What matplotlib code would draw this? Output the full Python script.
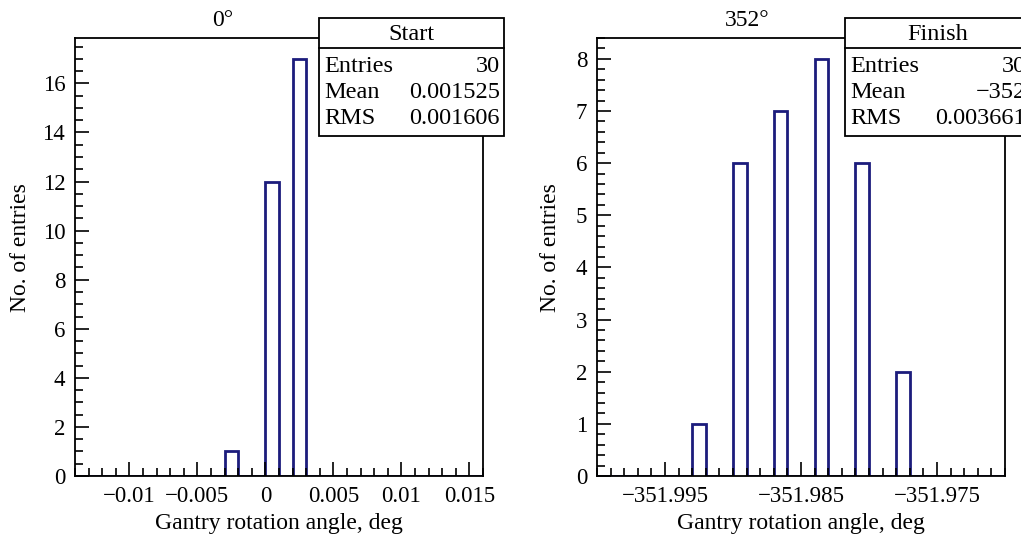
import numpy as np
import matplotlib
matplotlib.use("Agg")
import matplotlib.pyplot as plt
from matplotlib.patches import Rectangle
from matplotlib.ticker import MultipleLocator

# histogram data (30 bins each)
start_edges = np.linspace(-0.014, 0.016, 31)
start_counts = [0, 0, 0, 0, 0, 0, 0, 0, 0, 0,
                0, 1, 0, 0, 12, 0, 17, 0, 0, 0,
                0, 0, 0, 0, 0, 0, 0, 0, 0, 0]
finish_edges = np.linspace(-352.0, -351.97, 31)
finish_counts = [0, 0, 0, 0, 0, 0, 0, 1, 0, 0,
                 6, 0, 0, 7, 0, 0, 8, 0, 0, 6,
                 0, 0, 2, 0, 0, 0, 0, 0, 0, 0]

titles = ["0°", "352°"]
box_titles = ["Start", "Finish"]
stats = [[("Entries", "30"), ("Mean", "0.001525"), ("RMS", "0.001606")],
         [("Entries", "30"), ("Mean", "\u2212352"), ("RMS", "0.003661")]]

W, H = 1021, 539
plt.rcParams['font.family'] = ['Liberation Serif', 'DejaVu Serif']
plt.rcParams['font.size'] = 16.5
navy = '#1c1c7c'

fig = plt.figure(figsize=(W / 100, H / 100), dpi=100)

def fx(px):
    return px / W

def fy(py):
    return 1 - py / H

ax1 = fig.add_axes([fx(75), fy(476), fx(408), 438 / H])
ax2 = fig.add_axes([fx(597), fy(476), fx(408), 438 / H])

ax1.stairs(start_counts, start_edges, color=navy, lw=2)
ax1.set_xlim(-0.014, 0.016)
ax1.set_ylim(0, 1.05 * max(start_counts))
ax1.xaxis.set_minor_locator(MultipleLocator(0.001))
ax1.yaxis.set_major_locator(MultipleLocator(2))
ax1.yaxis.set_minor_locator(MultipleLocator(0.5))
ax1.set_xticks([-0.01, -0.005, 0, 0.005, 0.01, 0.015])
ax1.set_xticklabels(["\u22120.01", "\u22120.005", "0", "0.005", "0.01", "0.015"])

ax2.stairs(finish_counts, finish_edges, color=navy, lw=2)
ax2.set_xlim(-352.0, -351.97)
ax2.set_ylim(0, 1.05 * max(finish_counts))
ax2.xaxis.set_minor_locator(MultipleLocator(0.001))
ax2.yaxis.set_major_locator(MultipleLocator(1))
ax2.yaxis.set_minor_locator(MultipleLocator(0.2))
ax2.set_xticks([-351.995, -351.985, -351.975])
ax2.set_xticklabels(["\u2212351.995", "\u2212351.985", "\u2212351.975"])

for ax in (ax1, ax2):
    for s in ax.spines.values():
        s.set_linewidth(1.3)
    ax.tick_params(which='both', direction='in', top=False, right=False, width=1.2)
    ax.tick_params(which='major', length=10, pad=7)
    ax.tick_params(which='minor', length=5.5)

# titles and axis labels
fig.text(fx(223), fy(20), titles[0], ha='center', va='center', fontsize=17)
fig.text(fx(747), fy(20), titles[1], ha='center', va='center', fontsize=17)
for xc in (279, 801):
    fig.text(fx(xc), fy(523), "Gantry rotation angle, deg", ha='center', va='center', fontsize=17)
for xc in (21, 551):
    fig.text(fx(xc), fy(248), "No. of entries", ha='center', va='center', rotation=90, fontsize=17)

# stats boxes
for bx, name, rows in zip((319, 845), box_titles, stats):
    bw = 185
    fig.add_artist(Rectangle((fx(bx), fy(136)), fx(bw), (136 - 18) / H,
                             transform=fig.transFigure, facecolor='white',
                             edgecolor='black', lw=1.3, zorder=5))
    fig.add_artist(plt.Line2D([fx(bx), fx(bx + bw)], [fy(48), fy(48)],
                              transform=fig.transFigure, color='black', lw=1.3, zorder=6))
    fig.text(fx(bx + bw / 2), fy(34), name, ha='center', va='center', zorder=7, fontsize=17.5)
    for i, (k, v) in enumerate(rows):
        yc = 66 + i * 26
        fig.text(fx(bx + 5), fy(yc), k, ha='left', va='center', zorder=7, fontsize=17.5)
        fig.text(fx(bx + bw - 4), fy(yc), v, ha='right', va='center', zorder=7, fontsize=17.5)

fig.savefig('out.png', dpi=100)
